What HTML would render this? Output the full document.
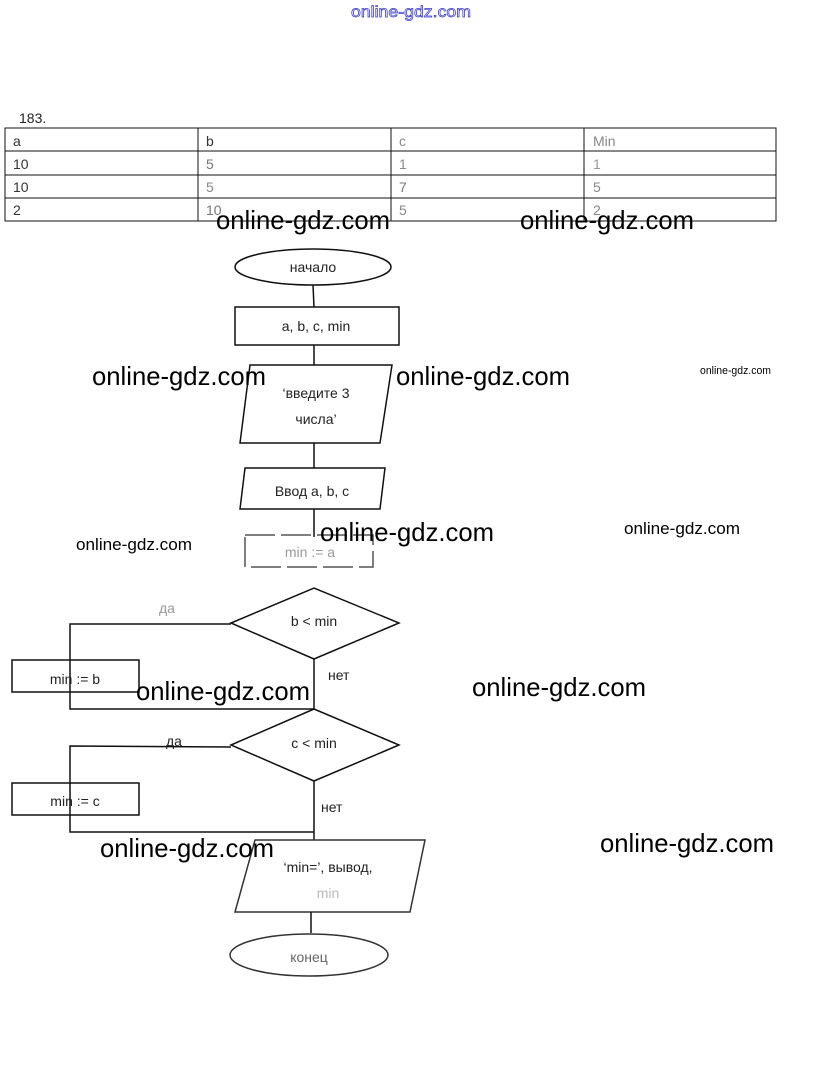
<!DOCTYPE html>
<html><head><meta charset="utf-8"><style>
html,body{margin:0;padding:0;background:#fff;}
svg{display:block;font-family:"Liberation Sans",sans-serif;}
</style></head><body>
<svg width="823" height="1089" viewBox="0 0 823 1089" xmlns="http://www.w3.org/2000/svg">
<text x="351" y="17" font-size="16" textLength="120" lengthAdjust="spacingAndGlyphs" fill="none" stroke="#3333cc" stroke-width="0.7">online-gdz.com</text>
<text x="19" y="123" font-size="14" fill="#222">183.</text>
<g stroke="#111" stroke-width="1" fill="none">
<rect x="5" y="128" width="771" height="93"/>
<line x1="5" y1="151" x2="776" y2="151"/><line x1="5" y1="175" x2="776" y2="175"/><line x1="5" y1="198" x2="776" y2="198"/>
<line x1="198" y1="128" x2="198" y2="221"/><line x1="391" y1="128" x2="391" y2="221"/><line x1="584" y1="128" x2="584" y2="221"/>
</g>
<g font-size="14" fill="#333">
<text x="13" y="146">a</text><text x="206" y="146">b</text><text x="399" y="146" fill="#888">c</text><text x="593" y="146" fill="#888">Min</text>
<text x="13" y="169">10</text><text x="206" y="169" fill="#777">5</text><text x="399" y="169" fill="#888">1</text><text x="593" y="169" fill="#999">1</text>
<text x="13" y="192">10</text><text x="206" y="192" fill="#888">5</text><text x="399" y="192" fill="#777">7</text><text x="593" y="192" fill="#888">5</text>
<text x="13" y="215">2</text><text x="206" y="215" fill="#777">10</text><text x="399" y="215" fill="#888">5</text><text x="593" y="215" fill="#888">2</text>
</g>
<g stroke="#111" stroke-width="1.5" fill="none">
<ellipse cx="313" cy="267" rx="78" ry="18"/>
<line x1="313" y1="285" x2="314" y2="307"/>
<rect x="235" y="307" width="164" height="38"/>
<line x1="314" y1="345" x2="314" y2="365"/>
<polygon points="250,365 392,365 380,443 240,443"/>
<line x1="314" y1="443" x2="314" y2="468"/>
<polygon points="245,468 385,468 380,509 240,509"/>
<line x1="314" y1="509" x2="314" y2="537"/>
<rect x="245" y="535" width="128" height="32" stroke="#555" stroke-dasharray="30 6"/>
<polygon points="231,623 314,588 399,623 314,659"/>
<polyline points="231,624 70,624 70,709 314,709"/>
<rect x="12" y="660" width="127" height="32"/>
<line x1="314" y1="659" x2="314" y2="709"/>
<polygon points="231,745 314,709 399,745 314,781"/>
<polyline points="231,747 70,746 70,832 314,832"/>
<rect x="12" y="783" width="127" height="32"/>
<line x1="314" y1="781" x2="314" y2="840"/>
<polygon points="255,840 425,840 410,912 235,912" stroke="#333"/>
<line x1="311" y1="912" x2="311" y2="933"/>
<ellipse cx="309" cy="955" rx="79" ry="21" stroke="#333"/>
</g>
<g font-size="14" fill="#222" text-anchor="middle">
<text x="313" y="272">начало</text>
<text x="316" y="331">a, b, c, min</text>
<text x="316" y="398">‘введите 3</text>
<text x="316" y="424">числа’</text>
<text x="312" y="496">Ввод a, b, c</text>
<text x="310" y="557" fill="#999">min := a</text>
<text x="314" y="626">b &lt; min</text>
<text x="314" y="748">c &lt; min</text>
<text x="75" y="684">min := b</text>
<text x="75" y="806">min := c</text>
<text x="328" y="872">‘min=’, вывод,</text>
<text x="328" y="898" fill="#bbb">min</text>
<text x="309" y="962" fill="#666">конец</text>
<text x="167" y="613" fill="#999">да</text>
<text x="174" y="746">да</text>
</g>
<g font-size="14" fill="#222">
<text x="328" y="680">нет</text>
<text x="321" y="812">нет</text>
</g>
<g font-size="26" fill="#000" lengthAdjust="spacingAndGlyphs">
<text x="216" y="229" textLength="174" lengthAdjust="spacingAndGlyphs">online-gdz.com</text>
<text x="520" y="229" textLength="174" lengthAdjust="spacingAndGlyphs">online-gdz.com</text>
<text x="92" y="385" textLength="174" lengthAdjust="spacingAndGlyphs">online-gdz.com</text>
<text x="396" y="385" textLength="174" lengthAdjust="spacingAndGlyphs">online-gdz.com</text>
<text x="320" y="541" textLength="174" lengthAdjust="spacingAndGlyphs">online-gdz.com</text>
<text x="136" y="700" textLength="174" lengthAdjust="spacingAndGlyphs">online-gdz.com</text>
<text x="472" y="696" textLength="174" lengthAdjust="spacingAndGlyphs">online-gdz.com</text>
<text x="100" y="857" textLength="174" lengthAdjust="spacingAndGlyphs">online-gdz.com</text>
<text x="600" y="852" textLength="174" lengthAdjust="spacingAndGlyphs">online-gdz.com</text>
</g>
<text x="700" y="374" font-size="11" textLength="71" lengthAdjust="spacingAndGlyphs">online-gdz.com</text>
<text x="624" y="534" font-size="17" textLength="116" lengthAdjust="spacingAndGlyphs">online-gdz.com</text>
<text x="76" y="550" font-size="17" textLength="116" lengthAdjust="spacingAndGlyphs">online-gdz.com</text>
</svg>
</body></html>
